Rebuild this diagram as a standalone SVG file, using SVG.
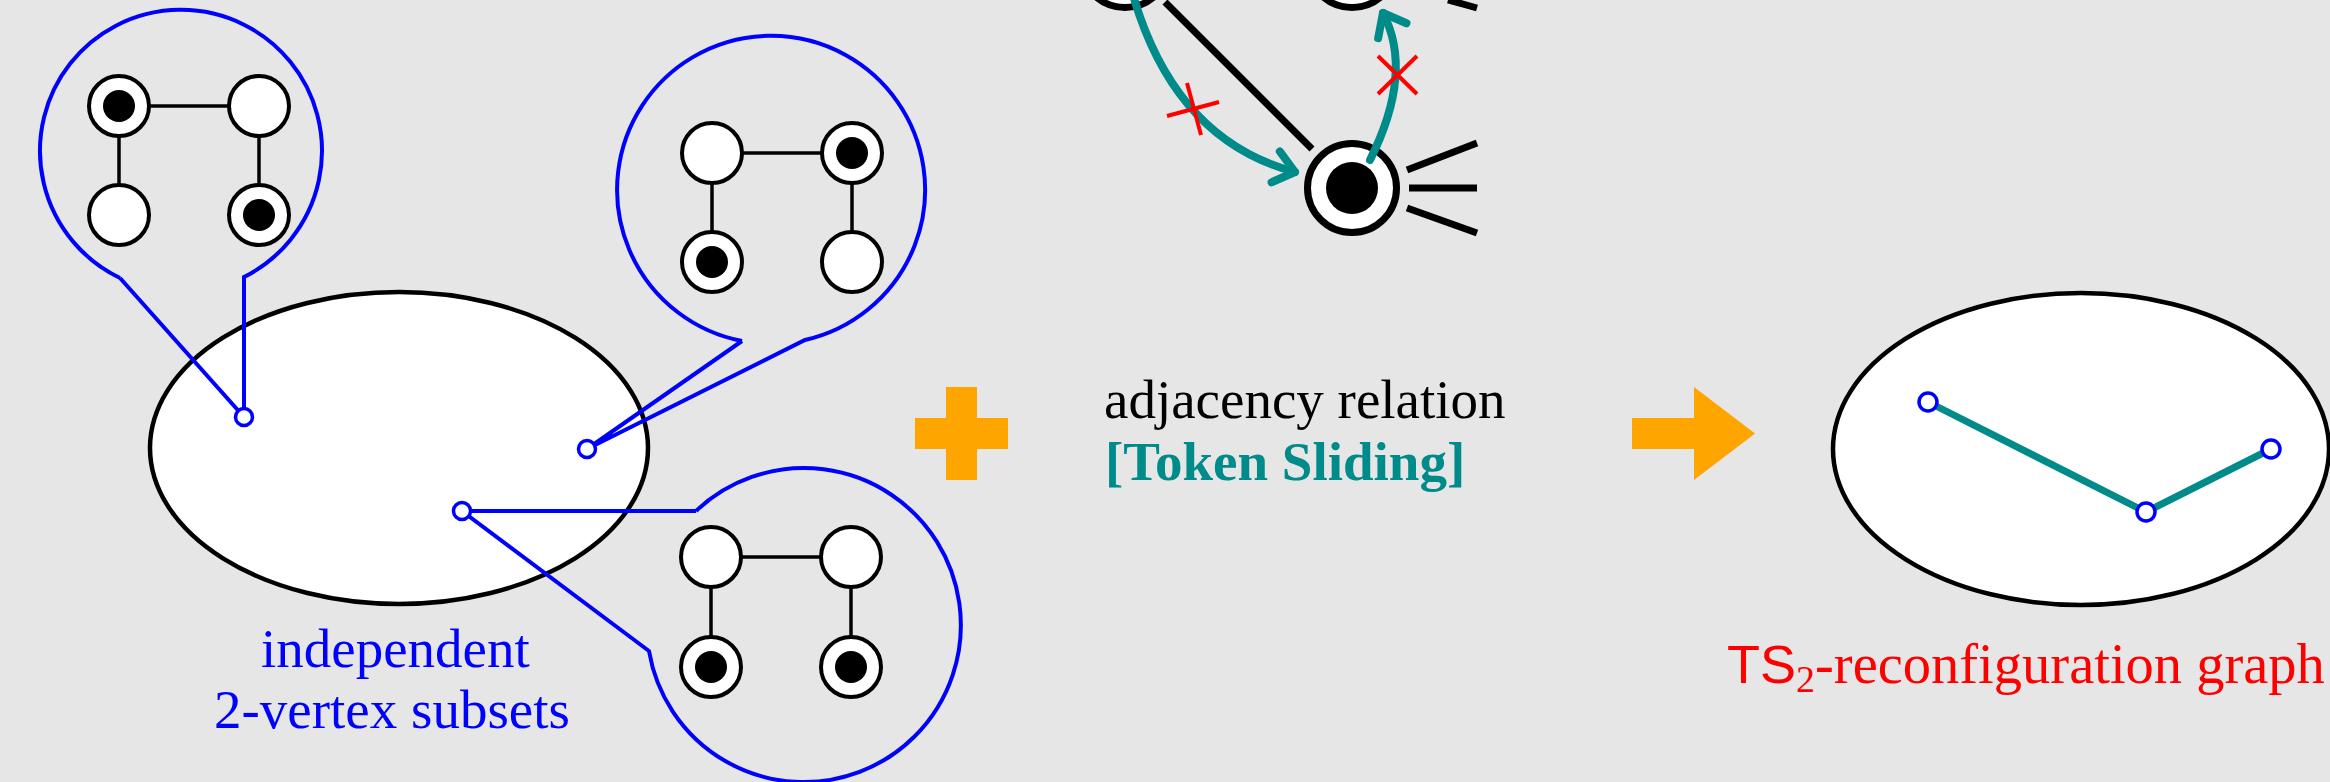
<svg xmlns="http://www.w3.org/2000/svg" width="2330" height="782" viewBox="0 0 2330 782">
<style>
.bubble{fill:none;stroke:#0000ff;stroke-width:4;stroke-linejoin:miter}
.v{fill:#fff;stroke:#000;stroke-width:4}
.dot{fill:#000}
.e{stroke:#000;stroke-width:3.5}
.big{fill:#fff;stroke:#000;stroke-width:4.5}
.pt{fill:#fff;stroke:#0000ff;stroke-width:3.5}
.bv{fill:#fff;stroke:#000;stroke-width:7}
.be{stroke:#000;stroke-width:7}
.ts{fill:none;stroke:#008b8b;stroke-width:8;stroke-linecap:round;stroke-linejoin:round}
.x{stroke:#ff0000;stroke-width:4}
.orange{fill:#ffa500}
.serif{font-family:"Liberation Serif","Times New Roman",serif;font-size:55px}
</style>
<defs>
<marker id="chev" markerUnits="userSpaceOnUse" viewBox="-26 -22 32 44" markerWidth="32" markerHeight="44" refX="0" refY="0" orient="auto" overflow="visible">
<path d="M-20,-16 L0,0 L-20,16" fill="none" stroke="#008b8b" stroke-width="8" stroke-linecap="round" stroke-linejoin="round"/>
</marker>
</defs>
<rect width="2330" height="782" fill="#e6e6e6"/>

<g id="subset-space">
<ellipse class="big" cx="399" cy="448" rx="249" ry="156"/>
</g>

<g id="bubble1">
<path class="bubble" d="M120,278 L244,417 L244,277 A141 141 0 1 0 120,278"/>
<line class="e" x1="119" y1="106" x2="259" y2="106"/>
<line class="e" x1="119" y1="106" x2="119" y2="215"/>
<line class="e" x1="259" y1="106" x2="259" y2="215"/>
<circle class="v" cx="119" cy="106" r="30"/><circle class="dot" cx="119" cy="106" r="16"/>
<circle class="v" cx="259" cy="106" r="30"/>
<circle class="v" cx="119" cy="215" r="30"/>
<circle class="v" cx="259" cy="215" r="30"/><circle class="dot" cx="259" cy="215" r="16"/>
</g>

<g id="bubble2">
<path class="bubble" d="M742,341 L587,449 L805,340 A154 154 0 1 0 742,341"/>
<line class="e" x1="712" y1="153" x2="852" y2="153"/>
<line class="e" x1="712" y1="153" x2="712" y2="262"/>
<line class="e" x1="852" y1="153" x2="852" y2="262"/>
<circle class="v" cx="712" cy="153" r="30"/>
<circle class="v" cx="852" cy="153" r="30"/><circle class="dot" cx="852" cy="153" r="16"/>
<circle class="v" cx="712" cy="262" r="30"/><circle class="dot" cx="712" cy="262" r="16"/>
<circle class="v" cx="852" cy="262" r="30"/>
</g>

<g id="bubble3">
<path class="bubble" d="M696,511 L462,511 L649,651 A157 157 0 1 0 696,511"/>
<line class="e" x1="711" y1="557" x2="851" y2="557"/>
<line class="e" x1="711" y1="557" x2="711" y2="667"/>
<line class="e" x1="851" y1="557" x2="851" y2="667"/>
<circle class="v" cx="711" cy="557" r="30"/>
<circle class="v" cx="851" cy="557" r="30"/>
<circle class="v" cx="711" cy="667" r="30"/><circle class="dot" cx="711" cy="667" r="16"/>
<circle class="v" cx="851" cy="667" r="30"/><circle class="dot" cx="851" cy="667" r="16"/>
</g>

<g id="points-left">
<circle class="pt" cx="244" cy="417" r="8.5"/>
<circle class="pt" cx="587" cy="449" r="8.5"/>
<circle class="pt" cx="462" cy="511" r="8.5"/>
</g>

<g id="label-left" class="serif" fill="#0000ff">
<text x="261" y="667">independent</text>
<text x="214" y="728">2-vertex subsets</text>
</g>

<g id="plus">
<rect class="orange" x="946" y="387" width="31" height="93"/>
<rect class="orange" x="915" y="418" width="93" height="31"/>
</g>

<g id="ts-example">
<line class="be" x1="1165" y1="2" x2="1312" y2="149"/>
<line class="be" x1="1448" y1="0" x2="1477" y2="8"/>
<line class="be" x1="1407" y1="170" x2="1477" y2="143"/>
<line class="be" x1="1409" y1="188" x2="1477" y2="188"/>
<line class="be" x1="1407" y1="208" x2="1477" y2="233"/>
<circle class="bv" cx="1125" cy="-37" r="44.5"/>
<circle class="bv" cx="1352" cy="-37" r="44.5"/>
<circle class="bv" cx="1352" cy="188" r="44.5"/>
<circle class="dot" cx="1352" cy="188" r="26"/>
</g>

<g id="connectors">
<path class="ts" d="M1133,-5 Q1175,140 1295,172" marker-end="url(#chev)"/>
<path class="ts" d="M1370,160 Q1414,72 1383,13" marker-end="url(#chev)"/>
<line class="x" x1="1167" y1="116" x2="1219" y2="102"/>
<line class="x" x1="1187" y1="83" x2="1201" y2="135"/>
<line class="x" x1="1378" y1="56" x2="1417" y2="94"/>
<line class="x" x1="1378" y1="94" x2="1417" y2="56"/>
</g>

<g id="label-mid" class="serif">
<text x="1104" y="418" fill="#000">adjacency relation</text>
<text x="1105" y="480" fill="#008b8b" font-weight="bold">[Token Sliding]</text>
</g>

<g id="arrow">
<path class="orange" d="M1632,418 L1694,418 L1694,387 L1755,433.5 L1694,480 L1694,449 L1632,449 Z"/>
</g>

<g id="reconf-graph">
<ellipse class="big" cx="2081" cy="449" rx="248" ry="156"/>
<polyline points="1928,402 2146,512 2271,449" fill="none" stroke="#008b8b" stroke-width="7"/>
<circle class="pt" cx="1928" cy="402" r="9" stroke-width="4"/>
<circle class="pt" cx="2146" cy="512" r="9" stroke-width="4"/>
<circle class="pt" cx="2271" cy="449" r="9" stroke-width="4"/>
</g>

<g id="label-right" fill="#ff0000">
<text x="1727" y="683"><tspan font-family="'Liberation Sans',Arial,sans-serif" font-size="54">TS</tspan><tspan font-family="'Liberation Serif','Times New Roman',serif" font-size="38" dy="9">2</tspan><tspan font-family="'Liberation Serif','Times New Roman',serif" font-size="56.5" dy="-9">-reconfiguration graph</tspan></text>
</g>
</svg>
